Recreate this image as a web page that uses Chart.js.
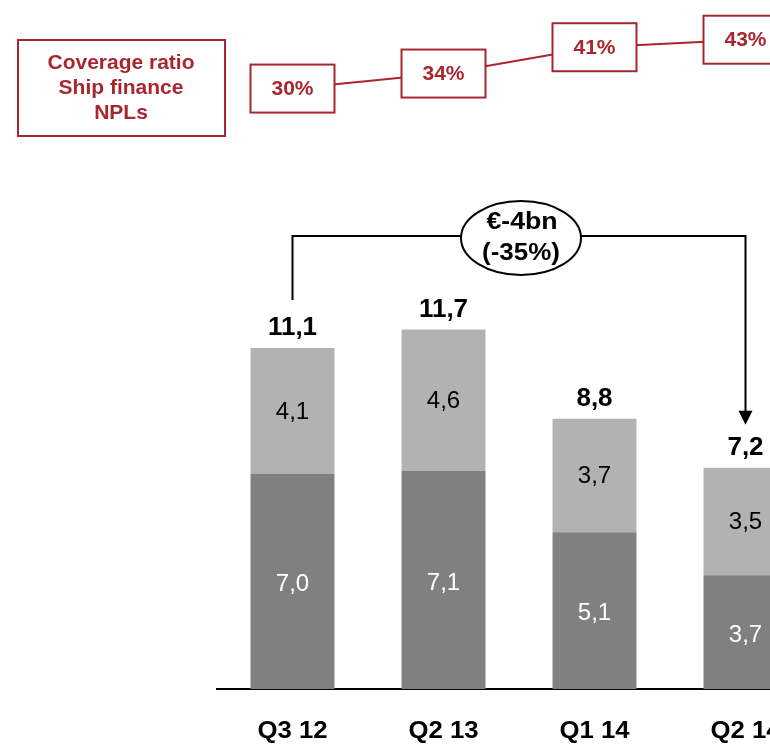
<!DOCTYPE html>
<html>
<head>
<meta charset="utf-8">
<script src="https://cdn.jsdelivr.net/npm/chart.js@4.4.1/dist/chart.umd.min.js"></script>
<style>
    html, body { margin: 0; padding: 0; background: #fff; overflow: hidden; }
    #wrap { width: 770px; height: 745px; overflow: hidden; position: relative; }
    canvas { display: block; }
</style>
</head>
<body>
<div id="wrap"><canvas id="npl" width="830" height="745"></canvas></div>
<script>
// Ship finance NPLs (EUR bn) and coverage ratio
const quarters = ['Q3 12', 'Q2 13', 'Q1 14', 'Q2 14'];
const lowerValues = [7.0, 7.1, 5.1, 3.7];
const upperValues = [4.1, 4.6, 3.7, 3.5];
const totals = [11.1, 11.7, 8.8, 7.2];
const coverageRatio = [30, 34, 41, 43];
const deltaLabel = ['€-4bn', '(-35%)'];
const coverageTitle = ['Coverage ratio', 'Ship finance', 'NPLs'];

const RED = '#a8272e';
const FONT = '"Liberation Sans", Arial, sans-serif';
const fmt = v => v.toFixed(1).replace('.', ',');

// text with optional horizontal stretch (the source slide has wide lettering)
function drawText(ctx, text, x, y, font, color, sx = 1) {
    ctx.save();
    ctx.font = font;
    ctx.fillStyle = color;
    ctx.textAlign = 'center';
    ctx.textBaseline = 'middle';
    ctx.translate(x, y);
    ctx.scale(sx, 1);
    ctx.fillText(text, 0, 0);
    ctx.restore();
}

const labelPlugin = {
    id: 'labels',
    afterDatasetsDraw(chart) {
        const ctx = chart.ctx;
        const x = chart.scales.x, y = chart.scales.y, y2 = chart.scales.y2;

        quarters.forEach((q, i) => {
            const cx = x.getPixelForValue(i);
            const base = y.getPixelForValue(0);
            const mid = y.getPixelForValue(lowerValues[i]);
            const top = y.getPixelForValue(lowerValues[i] + upperValues[i]);
            drawText(ctx, fmt(lowerValues[i]), cx, (base + mid) / 2 + 3, '24px ' + FONT, '#fff');
            drawText(ctx, fmt(upperValues[i]), cx, (mid + top) / 2 + 1, '24px ' + FONT, '#000');
            drawText(ctx, fmt(totals[i]), cx, y.getPixelForValue(totals[i]) - 20, 'bold 26px ' + FONT, '#000');
            drawText(ctx, q, cx, base + 43, 'bold 23px ' + FONT, '#000', 1.12);
        });

        // coverage ratio boxes
        coverageRatio.forEach((v, i) => {
            const cx = x.getPixelForValue(i);
            const cy = y2.getPixelForValue(v);
            ctx.save();
            ctx.fillStyle = '#fff';
            ctx.fillRect(cx - 42, cy - 24, 84, 48);
            ctx.strokeStyle = RED;
            ctx.lineWidth = 2;
            ctx.strokeRect(cx - 42, cy - 24, 84, 48);
            ctx.restore();
            drawText(ctx, v + '%', cx, cy + 1, 'bold 21px ' + FONT, RED);
        });
    },
    afterDraw(chart) {
        const ctx = chart.ctx;
        const x = chart.scales.x, y = chart.scales.y;
        ctx.save();

        // coverage ratio title box
        ctx.strokeStyle = RED;
        ctx.lineWidth = 2;
        ctx.strokeRect(18, 40, 207, 96);
        coverageTitle.forEach((t, k) => drawText(ctx, t, 121, 63 + k * 25, 'bold 21px ' + FONT, RED));

        // bracket from first to last quarter
        const x0 = x.getPixelForValue(0);
        const x1 = x.getPixelForValue(quarters.length - 1);
        const yTop = 236;
        const yStart = y.getPixelForValue(totals[0]) - 48;
        const yTip = y.getPixelForValue(totals[totals.length - 1]) - 43;
        ctx.strokeStyle = '#000';
        ctx.lineWidth = 2;
        ctx.beginPath();
        ctx.moveTo(x0, yStart);
        ctx.lineTo(x0, yTop);
        ctx.lineTo(x1, yTop);
        ctx.lineTo(x1, yTip - 12);
        ctx.stroke();
        ctx.fillStyle = '#000';
        ctx.beginPath();
        ctx.moveTo(x1 - 7, yTip - 14);
        ctx.lineTo(x1 + 7, yTip - 14);
        ctx.lineTo(x1, yTip);
        ctx.closePath();
        ctx.fill();

        // ellipse with delta
        const ex = 521, ey = 238;
        ctx.fillStyle = '#fff';
        ctx.beginPath();
        ctx.ellipse(ex, ey, 60, 37, 0, 0, Math.PI * 2);
        ctx.fill();
        ctx.stroke();
        ctx.restore();
        drawText(ctx, deltaLabel[0], ex + 1, ey - 15, 'bold 23px ' + FONT, '#000', 1.16);
        drawText(ctx, deltaLabel[1], ex, ey + 16, 'bold 23px ' + FONT, '#000', 1.13);
    }
};

new Chart(document.getElementById('npl'), {
    data: {
        labels: quarters,
        datasets: [
            {
                type: 'bar',
                data: lowerValues,
                backgroundColor: '#808080',
                stack: 'npl',
                yAxisID: 'y',
                barPercentage: 0.556,
                categoryPercentage: 1.0,
                order: 2
            },
            {
                type: 'bar',
                data: upperValues,
                backgroundColor: '#b2b2b2',
                stack: 'npl',
                yAxisID: 'y',
                barPercentage: 0.556,
                categoryPercentage: 1.0,
                order: 2
            },
            {
                type: 'line',
                data: coverageRatio,
                yAxisID: 'y2',
                borderColor: RED,
                borderWidth: 2,
                pointRadius: 0,
                tension: 0,
                fill: false,
                clip: false,
                order: 1
            }
        ]
    },
    options: {
        responsive: false,
        animation: false,
        layout: { padding: { left: 217, right: 9, top: 0, bottom: 0 } },
        plugins: {
            legend: { display: false },
            tooltip: { enabled: false }
        },
        scales: {
            x: {
                stacked: true,
                offset: true,
                grid: { display: false, drawTicks: false },
                border: { display: true, color: '#000', width: 2 },
                ticks: { display: false },
                afterFit(scale) { scale.height = 56; }
            },
            y: {
                display: false,
                stacked: true,
                min: 0,
                max: 22.43
            },
            y2: {
                display: false,
                min: -129.7,
                max: 53.56
            }
        }
    },
    plugins: [labelPlugin]
});
</script>
</body>
</html>
